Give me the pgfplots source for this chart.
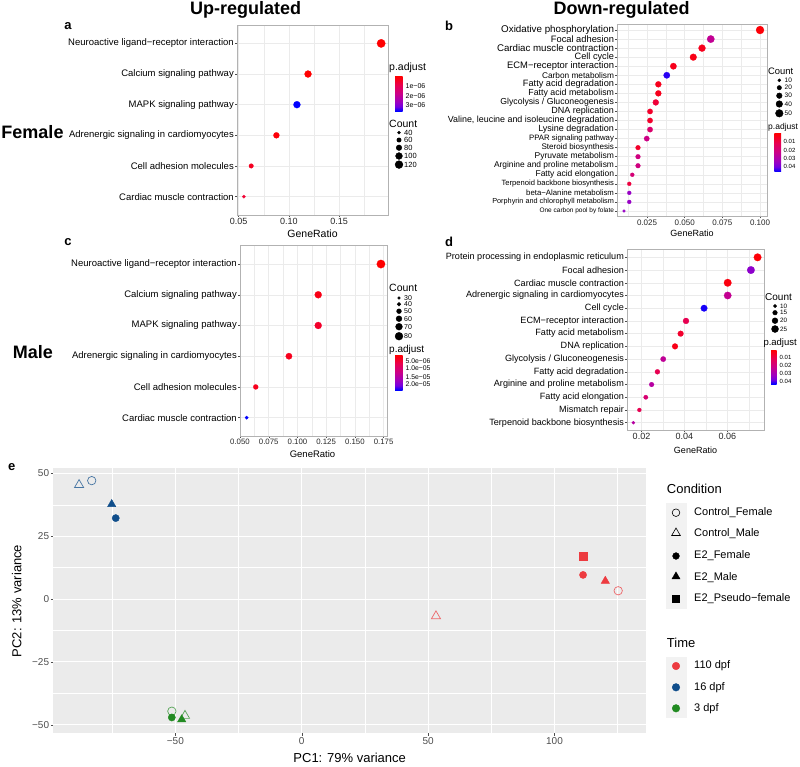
\documentclass[border=0pt]{standalone}
\usepackage{fontspec}
\setmainfont{Liberation Sans}
\usepackage{pgfplots}
\pgfplotsset{compat=1.18}
\usepackage{pgfplotstable}

\newcommand\fs[1]{\fontsize{#1}{#1}\selectfont}

\definecolor{c110}{RGB}{237,59,64}
\definecolor{c16}{RGB}{16,78,139}
\definecolor{c3}{RGB}{34,139,34}
\definecolor{gridc}{RGB}{235,235,235}
\definecolor{keyc}{RGB}{242,242,242}
\definecolor{tickc}{RGB}{77,77,77}

\pgfdeclareverticalshading{padjshade}{100bp}{rgb(0bp)=(0,0,1); rgb(25bp)=(0,0,1); rgb(31.25bp)=(0.451,0,0.878); rgb(37.5bp)=(0.604,0,0.765); rgb(50bp)=(0.792,0,0.537); rgb(62.5bp)=(0.910,0,0.314); rgb(75bp)=(1,0,0); rgb(100bp)=(1,0,0)}

\pgfplotsset{
  colormap={padj}{rgb255(0cm)=(255,0,0); rgb255(2cm)=(232,0,80); rgb255(4cm)=(202,0,137); rgb255(6cm)=(154,0,195); rgb255(7cm)=(115,0,224); rgb255(8cm)=(0,0,255)},
  dotpanel/.style={
    scale only axis, anchor=north west, colormap name=padj,
    axis line style={draw=gray!60, line width=0.5pt},
    grid=both, major grid style={gridc, line width=0.5pt}, minor grid style={gridc, line width=0.3pt},
    tick align=outside, major tick length=2pt, minor tick length=0pt,
    tick style={black!70, line width=0.4pt}, tick pos=left,
    scaled x ticks=false,
    yticklabel style={inner sep=1pt, text=black},
    xticklabel style={inner sep=1pt, text=black!85},
    clip=false,
  },
  bubbles/.style={scatter, only marks, mark=*, point meta=explicit,
    mark options={line width=0.2pt},
    scatter/use mapped color={draw=mapped color, fill=mapped color},
    visualization depends on={\thisrow{s}\as\msize},
    scatter/@pre marker code/.append style={/tikz/mark size=\msize}},
}

\pgfplotstableread{
y x p s
6 0.1916 1e-8 4.2
5 0.1190 1e-8 3.5
4 0.1080 3.84e-6 3.5
3 0.0876 1e-7 3.0
2 0.0626 4e-7 2.3
1 0.0553 6e-7 1.7
}\tabA

\pgfplotstableread{
y x p s
21 0.1000 0.001 4.0
20 0.0673 0.025 3.7
19 0.0615 0.004 3.5
18 0.0557 0.003 3.4
17 0.0425 0.004 3.2
16 0.0381 0.044 3.2
15 0.0325 0.004 3.0
14 0.0325 0.004 3.0
13 0.0308 0.008 3.0
12 0.0270 0.006 2.7
11 0.0270 0.006 2.7
10 0.0270 0.017 2.7
9 0.0248 0.022 2.7
8 0.0190 0.006 2.4
7 0.0190 0.021 2.4
6 0.0190 0.021 2.4
5 0.0152 0.019 2.0
4 0.0132 0.009 2.0
3 0.0132 0.035 2.0
2 0.0132 0.035 2.0
1 0.0097 0.035 1.4
}\tabB

\pgfplotstableread{
y x p s
6 0.1727 1e-8 4.2
5 0.1181 1.5e-6 3.5
4 0.1181 3e-6 3.5
3 0.0926 2e-6 3.2
2 0.0637 2e-6 2.5
1 0.0558 2.24e-5 1.7
}\tabC

\pgfplotstableread{
y x p s
14 0.0740 0.002 3.8
13 0.0709 0.035 3.8
12 0.0601 0.003 3.8
11 0.0601 0.024 3.7
10 0.0491 0.043 3.3
9 0.0407 0.012 3.0
8 0.0382 0.007 2.9
7 0.0356 0.004 2.9
6 0.0301 0.025 2.7
5 0.0274 0.012 2.5
4 0.0247 0.027 2.4
3 0.0220 0.018 2.2
2 0.0190 0.012 2.0
1 0.0162 0.027 1.6
}\tabD

% size-legend dots, in picture coordinates (pt)
\pgfplotstableread{
x y s
399 -132.7 1.5
399 -140.0 2.2
399 -147.7 2.8
399 -156.0 3.4
399 -164.6 3.9
779.3 -80.3 1.5
779.3 -87.7 2.2
779.3 -95.7 2.8
779.3 -104.0 3.3
779.3 -113.3 3.8
399 -298.0 1.4
399 -304.3 1.9
399 -311.2 2.4
399 -318.7 2.9
399 -326.7 3.4
399 -336.2 3.9
775 -306.0 1.7
775 -312.7 2.3
775 -320.7 2.9
775 -329.0 3.5
}\legdots

\begin{document}
\begin{tikzpicture}[x=1pt,y=1pt]
\useasboundingbox (0,-766) rectangle (800,0);

% legend key backgrounds (panel e)
\fill[keyc] (665.7,-502.7) rectangle (686.7,-609.3);
\fill[keyc] (665.7,-656.7) rectangle (686.7,-718.3);

% ---------------- panel a ----------------
\begin{axis}[dotpanel, at={(237pt,-25pt)}, width=151pt, height=190pt,
  xmin=0.0485, xmax=0.1984, ymin=0.4, ymax=6.6,
  xtick={0.05,0.10,0.15}, xticklabels={0.05,0.10,0.15}, minor xtick={0.075,0.125,0.175},
  ytick={1,2,3,4,5,6},
  yticklabels={Cardiac muscle contraction, Cell adhesion molecules, Adrenergic signaling in cardiomyocytes, MAPK signaling pathway, Calcium signaling pathway, Neuroactive ligand−receptor interaction},
  xticklabel style={font=\fs{9}}, yticklabel style={font=\fs{9.5}},
  point meta min=0, point meta max=3.84e-6]
\addplot[bubbles] table[x=x, y=y, meta=p] {\tabA};
\end{axis}

% ---------------- panel b ----------------
\begin{axis}[dotpanel, at={(617.2pt,-24.6pt)}, width=149.6pt, height=191.8pt,
  xmin=0.0052, xmax=0.1045, ymin=0.4, ymax=21.6,
  xtick={0.025,0.05,0.075,0.1}, xticklabels={0.025,0.050,0.075,0.100}, minor xtick={0.0125,0.0375,0.0625,0.0875},
  ytick={1,...,21},
  yticklabels={{\fs{6.5}One carbon pool by folate},{\fs{7.3}Porphyrin and chlorophyll metabolism},{\fs{7.8}beta−Alanine metabolism},{\fs{7.6}Terpenoid backbone biosynthesis},{\fs{8.5}Fatty acid elongation},{\fs{8.4}Arginine and proline metabolism},{\fs{8.5}Pyruvate metabolism},{\fs{8.1}Steroid biosynthesis},{\fs{7.8}PPAR signaling pathway},{\fs{9}Lysine degradation},{\fs{8.9}Valine, leucine and isoleucine degradation},{\fs{9}DNA replication},{\fs{8.7}Glycolysis / Gluconeogenesis},{\fs{8.8}Fatty acid metabolism},{\fs{9.2}Fatty acid degradation},{\fs{8.3}Carbon metabolism},{\fs{9.4}ECM−receptor interaction},{\fs{9.2}Cell cycle},{\fs{9.7}Cardiac muscle contraction},{\fs{9.3}Focal adhesion},{\fs{9.8}Oxidative phosphorylation}},
  xticklabel style={font=\fs{8}},
  point meta min=0, point meta max=0.046]
\addplot[bubbles] table[x=x, y=y, meta=p] {\tabB};
\end{axis}

% ---------------- panel c ----------------
\begin{axis}[dotpanel, at={(240pt,-245.6pt)}, width=147.6pt, height=190.5pt,
  xmin=0.05, xmax=0.1785, ymin=0.4, ymax=6.6,
  xtick={0.05,0.075,0.1,0.125,0.15,0.175}, xticklabels={0.050,0.075,0.100,0.125,0.150,0.175},
  minor xtick={0.0625,0.0875,0.1125,0.1375,0.1625},
  ytick={1,2,3,4,5,6},
  yticklabels={Cardiac muscle contraction, Cell adhesion molecules, Adrenergic signaling in cardiomyocytes, MAPK signaling pathway, Calcium signaling pathway, Neuroactive ligand−receptor interaction},
  xticklabel style={font=\fs{7.8}}, yticklabel style={font=\fs{9.5}},
  point meta min=0, point meta max=2.24e-5]
\addplot[bubbles] table[x=x, y=y, meta=p] {\tabC};
\end{axis}

% ---------------- panel d ----------------
\begin{axis}[dotpanel, at={(627.1pt,-249.7pt)}, width=136.7pt, height=180.6pt,
  xmin=0.0133, xmax=0.0769, ymin=0.4, ymax=14.6,
  xtick={0.02,0.04,0.06}, xticklabels={0.02,0.04,0.06}, minor xtick={0.03,0.05,0.07},
  ytick={1,...,14},
  yticklabels={Terpenoid backbone biosynthesis, Mismatch repair, Fatty acid elongation, Arginine and proline metabolism, Fatty acid degradation, Glycolysis / Gluconeogenesis, DNA replication, Fatty acid metabolism, ECM−receptor interaction, Cell cycle, Adrenergic signaling in cardiomyocytes, Cardiac muscle contraction, Focal adhesion, Protein processing in endoplasmic reticulum},
  xticklabel style={font=\fs{9}}, yticklabel style={font=\fs{9.1}},
  point meta min=0.001, point meta max=0.044]
\addplot[bubbles] table[x=x, y=y, meta=p] {\tabD};
\end{axis}

% ---------------- panel e ----------------
\begin{axis}[scale only axis, at={(53.3pt,-733.3pt)}, anchor=south west,
  width=592.7pt, height=265pt,
  xmin=-98.3, xmax=136.2, ymin=-53.4, ymax=52.0,
  axis background/.style={fill=gridc}, axis line style={draw=none},
  grid=both, major grid style={white, line width=0.9pt}, minor grid style={white, line width=0.45pt},
  xtick={-50,0,50,100}, xticklabels={−50,0,50,100},
  ytick={-50,-25,0,25,50}, yticklabels={−50,−25,0,25,50},
  minor xtick={-75,-25,25,75,125}, minor ytick={-37.5,-12.5,12.5,37.5},
  tick align=outside, major tick length=2.5pt, minor tick length=0pt,
  tick style={tickc, line width=0.5pt}, tick pos=left,
  ticklabel style={font=\fs{10}, text=tickc, inner sep=1.5pt},
  clip=false]
% Control (open)
\addplot[only marks, mark=triangle, mark size=5.3, color=c16, mark options={line width=0.7pt, draw opacity=0.75}] coordinates {(-88.1,45.4)};
\addplot[only marks, mark=o, mark size=4.2, color=c16, mark options={line width=0.7pt, draw opacity=0.75}] coordinates {(-83.1,47.1)};
\addplot[only marks, mark=o, mark size=4.2, color=c3, mark options={line width=0.7pt, draw opacity=0.75}] coordinates {(-51.4,-44.6)};
\addplot[only marks, mark=triangle, mark size=5.3, color=c3, mark options={line width=0.7pt, draw opacity=0.75}] coordinates {(-46.2,-46.4)};
\addplot[only marks, mark=triangle, mark size=5.3, color=c110, mark options={line width=0.7pt, draw opacity=0.75}] coordinates {(53.1,-6.8)};
\addplot[only marks, mark=o, mark size=4.2, color=c110, mark options={line width=0.7pt, draw opacity=0.75}] coordinates {(125.2,3.3)};
% E2 (filled)
\addplot[only marks, mark=triangle*, mark size=4.8, color=c16] coordinates {(-75.2,37.7)};
\addplot[only marks, mark=*, mark size=3.6, color=c16] coordinates {(-73.6,32.2)};
\addplot[only marks, mark=*, mark size=3.6, color=c3] coordinates {(-51.4,-47.1)};
\addplot[only marks, mark=triangle*, mark size=4.8, color=c3] coordinates {(-47.5,-47.9)};
\addplot[only marks, mark=square*, mark size=3.7, color=c110] coordinates {(111.3,17.1)};
\addplot[only marks, mark=*, mark size=3.6, color=c110] coordinates {(111.3,9.6)};
\addplot[only marks, mark=triangle*, mark size=4.8, color=c110] coordinates {(120.1,7.2)};
\end{axis}

% ---------------- overlay axis for legend keys (1 unit = 1pt) ----------------
\begin{axis}[scale only axis, at={(0pt,-766pt)}, anchor=south west, width=800pt, height=766pt,
  xmin=0, xmax=800, ymin=-766, ymax=0, hide axis, clip=false]
\addplot[scatter, only marks, mark=*, point meta=explicit,
  scatter/use mapped color={draw=black, fill=black},
  visualization depends on={\thisrow{s}\as\msize},
  scatter/@pre marker code/.append style={/tikz/mark size=\msize}] table[x=x, y=y, meta=s] {\legdots};
% panel e legend keys
\addplot[only marks, mark=o, mark size=3.8, black, mark options={line width=0.6pt}] coordinates {(676,-512.7)};
\addplot[only marks, mark=triangle, mark size=5, black, mark options={line width=0.6pt}] coordinates {(676,-533)};
\addplot[only marks, mark=*, mark size=3.4, black] coordinates {(676,-556)};
\addplot[only marks, mark=triangle*, mark size=4.6, black] coordinates {(676,-576.5)};
\addplot[only marks, mark=square*, mark size=3.4, black] coordinates {(676,-598.3)};
\addplot[only marks, mark=*, mark size=3.8, c110] coordinates {(676,-666)};
\addplot[only marks, mark=*, mark size=3.8, c16] coordinates {(676,-687.3)};
\addplot[only marks, mark=*, mark size=3.8, c3] coordinates {(676,-708.3)};
\end{axis}

% ---------------- colour bars ----------------
\shade[shading=padjshade] (395,-111) rectangle (402.5,-76.5);
\shade[shading=padjshade] (774.3,-171.7) rectangle (781,-133.3);
\shade[shading=padjshade] (395,-390) rectangle (402.5,-355);
\shade[shading=padjshade] (771,-384) rectangle (776.7,-350);

% ---------------- texts ----------------
\begin{scope}[every node/.style={inner sep=0pt}]
\node[font=\bfseries\fs{18}] at (245.6,-9.5) {Up-regulated};
\node[font=\bfseries\fs{18}] at (621.7,-9.5) {Down-regulated};
\node[font=\bfseries\fs{13}] at (68,-26) {a};
\node[font=\bfseries\fs{13}] at (449,-26) {b};
\node[font=\bfseries\fs{13}] at (68,-241.7) {c};
\node[font=\bfseries\fs{13}] at (449,-241.7) {d};
\node[font=\bfseries\fs{13}] at (11.7,-466.7) {e};
\node[font=\bfseries\fs{18}] at (32.5,-131.7) {Female};
\node[font=\bfseries\fs{18}] at (33,-351.7) {Male};

\node[font=\fs{10.5}] at (312.5,-233.3) {GeneRatio};
\node[font=\fs{9.5}] at (312.5,-454) {GeneRatio};
\node[font=\fs{9}] at (692,-233.3) {GeneRatio};
\node[font=\fs{9}] at (695.5,-450) {GeneRatio};

% legend a
\node[anchor=west, font=\fs{10.5}] at (389,-68) {p.adjust};
\node[anchor=west, font=\fs{7}] at (405.5,-86) {1e−06};
\node[anchor=west, font=\fs{7}] at (405.5,-95.8) {2e−06};
\node[anchor=west, font=\fs{7}] at (405.5,-105.3) {3e−06};
\node[anchor=west, font=\fs{10.5}] at (389,-124) {Count};
\node[anchor=west, font=\fs{7.5}] at (404,-132.7) {40};
\node[anchor=west, font=\fs{7.5}] at (404,-140) {60};
\node[anchor=west, font=\fs{7.5}] at (404,-147.7) {80};
\node[anchor=west, font=\fs{7.5}] at (404,-156) {100};
\node[anchor=west, font=\fs{7.5}] at (404,-164.6) {120};

% legend b
\node[anchor=west, font=\fs{9.4}] at (768,-71.7) {Count};
\node[anchor=west, font=\fs{6.5}] at (784.5,-80.3) {10};
\node[anchor=west, font=\fs{6.5}] at (784.5,-87.7) {20};
\node[anchor=west, font=\fs{6.5}] at (784.5,-95.7) {30};
\node[anchor=west, font=\fs{6.5}] at (784.5,-104) {40};
\node[anchor=west, font=\fs{6.5}] at (784.5,-113.3) {50};
\node[anchor=west, font=\fs{8.5}] at (768,-127.7) {p.adjust};
\node[anchor=west, font=\fs{6}] at (783.5,-141.7) {0.01};
\node[anchor=west, font=\fs{6}] at (783.5,-150) {0.02};
\node[anchor=west, font=\fs{6}] at (783.5,-158.3) {0.03};
\node[anchor=west, font=\fs{6}] at (783.5,-166.7) {0.04};

% legend c
\node[anchor=west, font=\fs{10.5}] at (389,-288) {Count};
\node[anchor=west, font=\fs{7}] at (404,-298) {30};
\node[anchor=west, font=\fs{7}] at (404,-304.3) {40};
\node[anchor=west, font=\fs{7}] at (404,-311.2) {50};
\node[anchor=west, font=\fs{7}] at (404,-318.7) {60};
\node[anchor=west, font=\fs{7}] at (404,-326.7) {70};
\node[anchor=west, font=\fs{7}] at (404,-336.2) {80};
\node[anchor=west, font=\fs{10}] at (389,-349.5) {p.adjust};
\node[anchor=west, font=\fs{6.8}] at (405.5,-360.8) {5.0e−06};
\node[anchor=west, font=\fs{6.8}] at (405.5,-368.5) {1.0e−05};
\node[anchor=west, font=\fs{6.8}] at (405.5,-376.7) {1.5e−05};
\node[anchor=west, font=\fs{6.8}] at (405.5,-384.2) {2.0e−05};

% legend d
\node[anchor=west, font=\fs{10}] at (765,-296.7) {Count};
\node[anchor=west, font=\fs{6.3}] at (780,-306) {10};
\node[anchor=west, font=\fs{6.3}] at (780,-312.7) {15};
\node[anchor=west, font=\fs{6.3}] at (780,-320.7) {20};
\node[anchor=west, font=\fs{6.3}] at (780,-329) {25};
\node[anchor=west, font=\fs{9.5}] at (763.3,-343.3) {p.adjust};
\node[anchor=west, font=\fs{6}] at (779.5,-357) {0.01};
\node[anchor=west, font=\fs{6}] at (779.5,-365) {0.02};
\node[anchor=west, font=\fs{6}] at (779.5,-373.3) {0.03};
\node[anchor=west, font=\fs{6}] at (779.5,-381) {0.04};

% panel e labels and legend
\node[font=\fs{13}] at (349.7,-758.3) {PC1: 79\% variance};
\node[font=\fs{13}, rotate=90] at (16.7,-601) {PC2: 13\% variance};
\node[anchor=west, font=\fs{13}] at (666.7,-489.3) {Condition};
\node[anchor=west, font=\fs{11}] at (694,-512.7) {Control\_Female};
\node[anchor=west, font=\fs{11}] at (694,-534) {Control\_Male};
\node[anchor=west, font=\fs{11}] at (694,-556) {E2\_Female};
\node[anchor=west, font=\fs{11}] at (694,-577.3) {E2\_Male};
\node[anchor=west, font=\fs{11}] at (694,-598.3) {E2\_Pseudo−female};
\node[anchor=west, font=\fs{13}] at (666.7,-642.7) {Time};
\node[anchor=west, font=\fs{11}] at (694,-666) {110 dpf};
\node[anchor=west, font=\fs{11}] at (694,-687.3) {16 dpf};
\node[anchor=west, font=\fs{11}] at (694,-708.3) {3 dpf};
\end{scope}
\end{tikzpicture}
\end{document}
